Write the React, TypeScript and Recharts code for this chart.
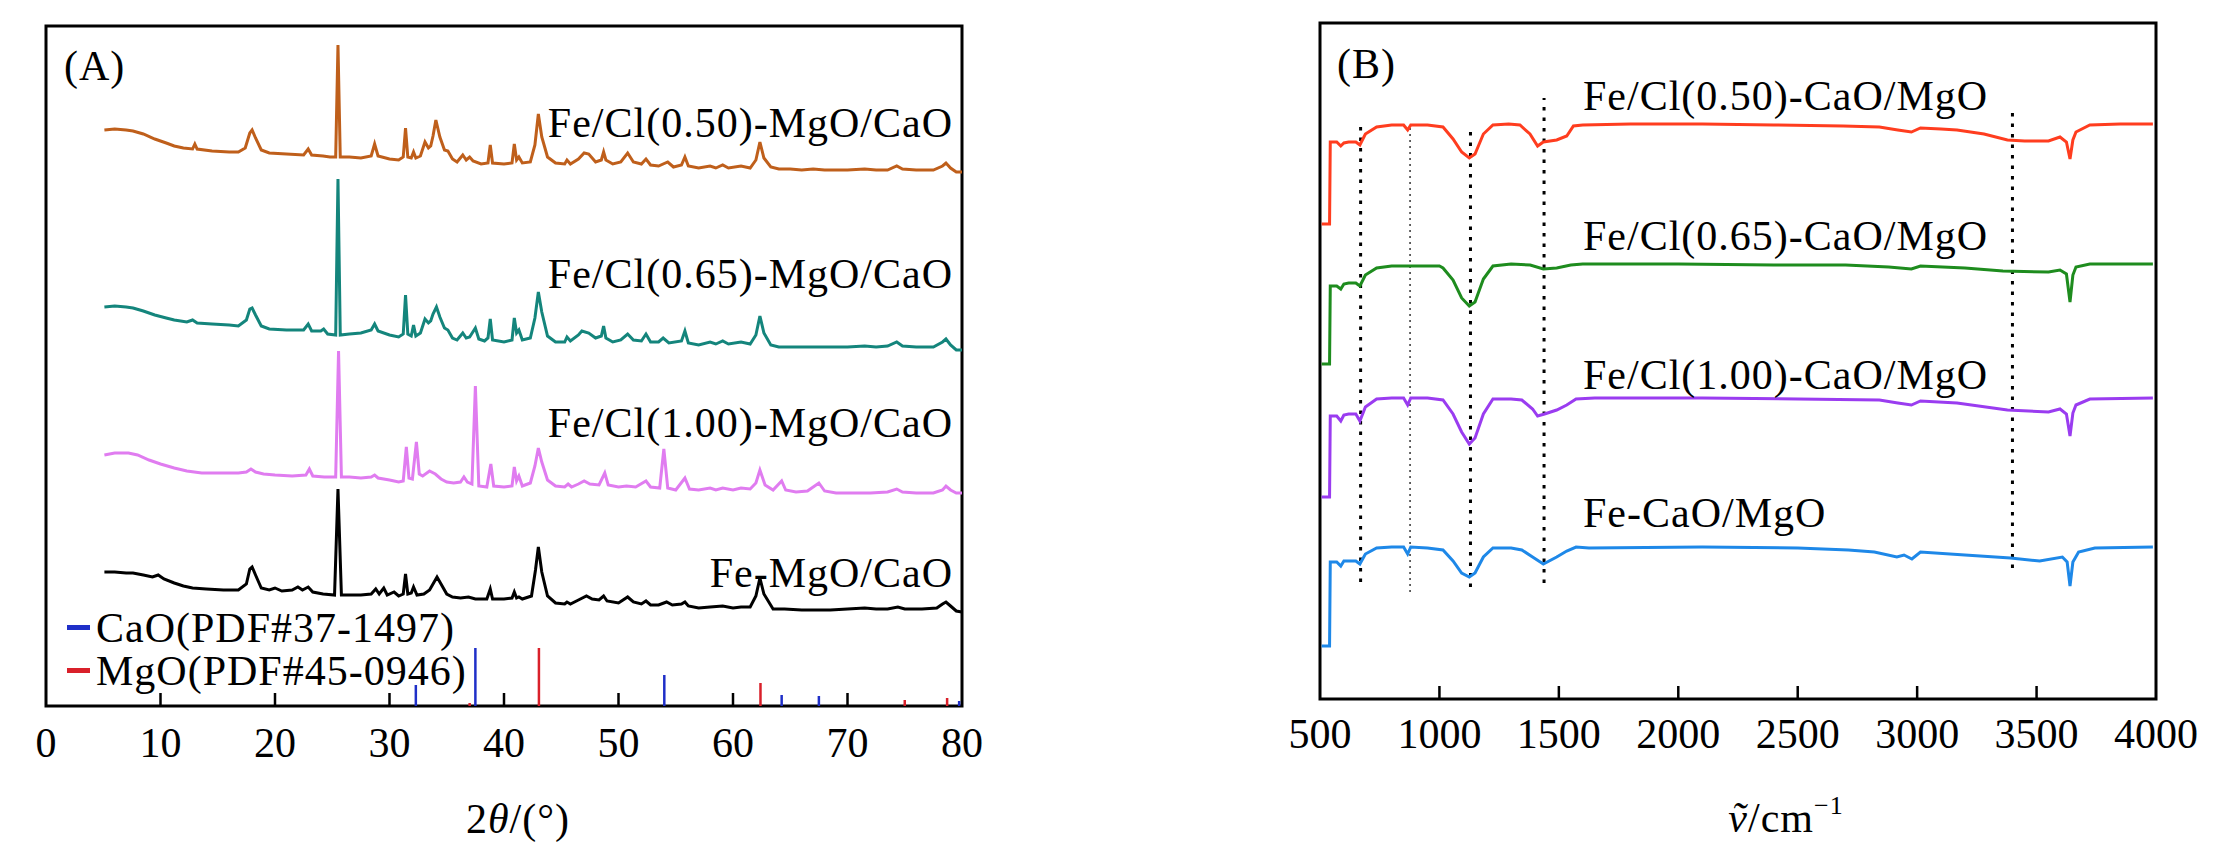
import { LineChart, Line, XAxis, YAxis, ReferenceLine, ReferenceArea } from 'recharts'

const SERIF = "'Liberation Serif', 'Times New Roman', serif"

// (A) XRD, 2θ in degrees vs intensity (a.u., patterns offset)
const XRD_TICKS = [0, 10, 20, 30, 40, 50, 60, 70, 80]

const XRD_050 = [
  [5.1, 576], [6.0, 577], [7.0, 576], [7.6, 575], [8.5, 572], [9.5, 567], [10.5, 563], [11.2, 560], [12.0, 558],
  [12.8, 557], [13.0, 562], [13.2, 557], [14.5, 555], [16.0, 554], [16.8, 554], [17.4, 558], [17.8, 573], [18.0, 576],
  [18.3, 568], [18.8, 556], [19.5, 553], [21.0, 552], [22.5, 551], [22.9, 557], [23.2, 551], [24.2, 550], [24.8, 549],
  [25.3, 549], [25.5, 661], [25.7, 549], [26.5, 549], [27.5, 548], [28.4, 550], [28.7, 562], [29.0, 550], [30.0, 547],
  [30.8, 546], [31.2, 549], [31.4, 578], [31.6, 549], [31.9, 548], [32.1, 554], [32.3, 548], [32.7, 550], [33.1, 564],
  [33.4, 558], [33.6, 560], [33.8, 570], [34.05, 586], [34.4, 569], [34.8, 556], [35.1, 555], [35.5, 547], [35.9, 544],
  [36.4, 551], [36.7, 546], [37.0, 549], [37.3, 545], [38.0, 542], [38.6, 543], [38.8, 561], [39.0, 543], [40.0, 542],
  [40.7, 543], [40.9, 562], [41.1, 546], [41.3, 549], [41.6, 543], [42.3, 544], [42.7, 561], [43.0, 592], [43.3, 569],
  [43.8, 549], [44.5, 543], [45.3, 542], [45.5, 546], [45.8, 542], [46.5, 547], [47.0, 553], [47.4, 552], [48.0, 544],
  [48.5, 546], [48.7, 554], [48.9, 546], [49.5, 542], [50.2, 544], [50.8, 553], [51.3, 544], [52.0, 542], [52.4, 547],
  [52.8, 541], [53.5, 540], [54.3, 544], [54.8, 539], [55.5, 541], [55.8, 549], [56.1, 540], [57.0, 538], [58.0, 540],
  [58.5, 538], [59.1, 541], [59.6, 538], [60.7, 540], [61.5, 538], [62.0, 546], [62.35, 564], [62.7, 548], [63.3, 539],
  [64.0, 537], [65.0, 537], [66.0, 536], [67.0, 537], [68.0, 536], [70.0, 536], [71.5, 537], [72.5, 536], [73.5, 536],
  [74.3, 540], [74.8, 537], [76.0, 536], [77.5, 536], [78.3, 540], [78.6, 543], [79.0, 538], [79.5, 534], [80.0, 534],
]

const XRD_065 = [
  [5.1, 399], [6.0, 400], [7.0, 399], [7.6, 398], [8.5, 395], [9.5, 391], [10.5, 388], [11.2, 386], [12.3, 384],
  [12.8, 386], [13.2, 383], [14.5, 382], [16.0, 381], [16.8, 380], [17.5, 386], [17.8, 397], [18.0, 398], [18.3, 391],
  [18.8, 380], [19.5, 377], [21.0, 376], [22.5, 376], [22.9, 382], [23.2, 375], [24.0, 375], [24.25, 377], [24.6, 372],
  [25.3, 371], [25.5, 527], [25.7, 371], [26.5, 372], [27.5, 373], [28.4, 376], [28.7, 382], [29.0, 375], [30.0, 371],
  [30.8, 369], [31.2, 372], [31.4, 411], [31.6, 372], [31.9, 370], [32.1, 381], [32.3, 370], [32.7, 373], [33.1, 387],
  [33.4, 383], [33.6, 385], [33.8, 392], [34.1, 399], [34.4, 389], [34.8, 378], [35.1, 376], [35.5, 368], [35.9, 366],
  [36.4, 373], [36.7, 368], [37.0, 369], [37.5, 378], [37.8, 367], [38.3, 365], [38.6, 368], [38.8, 387], [39.0, 366],
  [40.0, 364], [40.7, 366], [40.9, 388], [41.1, 373], [41.3, 376], [41.6, 366], [42.3, 368], [42.7, 388], [43.0, 414],
  [43.3, 394], [43.8, 370], [44.5, 364], [45.3, 364], [45.5, 369], [45.8, 365], [46.5, 371], [46.8, 375], [47.4, 373],
  [48.0, 368], [48.5, 370], [48.7, 380], [48.9, 368], [49.5, 364], [50.2, 366], [50.8, 372], [51.3, 366], [52.0, 365],
  [52.4, 372], [52.8, 364], [53.5, 364], [53.9, 368], [54.4, 363], [55.5, 365], [55.8, 375], [56.1, 363], [57.0, 361],
  [58.0, 364], [58.5, 362], [59.1, 365], [59.6, 362], [60.7, 364], [61.5, 362], [62.0, 371], [62.35, 390], [62.7, 373],
  [63.3, 361], [64.0, 359], [65.0, 359], [66.0, 359], [67.0, 359], [68.0, 359], [70.0, 359], [71.5, 360], [72.5, 359],
  [73.5, 360], [74.3, 364], [74.8, 360], [76.0, 359], [77.5, 359], [78.3, 364], [78.6, 367], [79.0, 361], [79.5, 356],
  [80.0, 356],
]

const XRD_100 = [
  [5.1, 251], [6.0, 253], [7.2, 253], [8.0, 251], [9.0, 246], [10.0, 242], [11.2, 238], [12.3, 235], [13.6, 233],
  [15.0, 233], [16.8, 233], [17.5, 234], [17.9, 237], [18.3, 234], [19.0, 232], [20.0, 231], [21.5, 230], [22.7, 231],
  [23.0, 237], [23.3, 230], [24.3, 229], [25.3, 229], [25.55, 355], [25.8, 229], [26.5, 229], [27.5, 228], [28.4, 229],
  [28.7, 231], [29.0, 228], [30.0, 226], [30.8, 224], [31.2, 225], [31.47, 259], [31.7, 228], [32.0, 227], [32.35, 264],
  [32.6, 232], [32.9, 230], [33.5, 235], [34.0, 232], [34.5, 227], [35.0, 224], [35.6, 223], [36.2, 224], [36.5, 229],
  [36.8, 224], [37.2, 222], [37.5, 320], [37.8, 220], [38.5, 219], [38.85, 242], [39.1, 220], [40.0, 219], [40.7, 220],
  [40.9, 239], [41.1, 225], [41.3, 230], [41.6, 220], [42.3, 223], [42.7, 240], [43.0, 258], [43.3, 244], [43.8, 226],
  [44.5, 220], [45.3, 219], [45.6, 222], [45.9, 219], [46.5, 222], [47.0, 225], [47.5, 222], [48.3, 221], [48.8, 233],
  [49.1, 221], [50.0, 219], [50.7, 220], [51.5, 219], [52.4, 225], [52.8, 219], [53.6, 218], [53.96, 257], [54.3, 218],
  [55.0, 216], [55.8, 228], [56.2, 217], [57.0, 216], [58.0, 218], [58.5, 216], [59.1, 218], [60.0, 216], [60.7, 218],
  [61.5, 217], [62.0, 223], [62.35, 236], [62.8, 221], [63.5, 216], [64.25, 225], [64.6, 216], [65.5, 214], [66.5, 215],
  [67.5, 223], [68.0, 215], [69.0, 213], [70.5, 213], [72.0, 213], [73.5, 214], [74.3, 217], [74.8, 214], [76.0, 213],
  [77.5, 213], [78.3, 216], [78.6, 220], [79.0, 216], [79.5, 213], [80.0, 213],
]

const XRD_FE = [
  [5.1, 134], [6.0, 134], [7.0, 133], [7.6, 133], [8.5, 131], [9.3, 129], [9.8, 131], [10.3, 127], [11.2, 123],
  [12.0, 120], [12.8, 118], [14.0, 117], [15.5, 116], [16.8, 116], [17.5, 122], [17.8, 137], [18.0, 139], [18.3, 131],
  [18.8, 118], [19.5, 116], [20.0, 118], [20.6, 115], [21.5, 116], [22.0, 119], [22.4, 116], [22.9, 119], [23.3, 114],
  [24.2, 112], [25.2, 111], [25.5, 217], [25.8, 111], [26.5, 111], [27.5, 111], [28.4, 112], [28.8, 117], [29.1, 112],
  [29.5, 118], [29.8, 111], [30.4, 114], [30.8, 110], [31.2, 112], [31.4, 132], [31.6, 112], [31.9, 113], [32.1, 119],
  [32.4, 111], [33.0, 112], [33.5, 116], [33.9, 124], [34.15, 129], [34.5, 122], [35.0, 112], [35.5, 109], [36.2, 108],
  [36.9, 109], [37.5, 107], [38.5, 107], [38.8, 117], [39.0, 107], [40.0, 107], [40.7, 108], [40.9, 114], [41.1, 108],
  [41.3, 109], [41.6, 107], [42.4, 110], [42.75, 136], [43.0, 159], [43.3, 134], [43.8, 110], [44.5, 103], [45.3, 102],
  [45.5, 104], [45.8, 102], [46.5, 106], [47.2, 110], [47.7, 107], [48.3, 106], [48.7, 110], [49.0, 105], [50.0, 103],
  [50.8, 109], [51.3, 104], [52.0, 102], [52.4, 105], [52.8, 101], [53.5, 101], [54.2, 104], [54.7, 101], [55.5, 102],
  [55.8, 104], [56.1, 100], [57.0, 98], [58.0, 99], [59.1, 100], [60.0, 98], [60.7, 99], [61.5, 99], [62.0, 110],
  [62.35, 128], [62.7, 112], [63.5, 97], [64.5, 97], [66.0, 96], [67.0, 96], [68.5, 96], [70.0, 97], [71.5, 98],
  [72.5, 97], [73.5, 97], [74.4, 99], [75.0, 97], [76.5, 97], [77.8, 98], [78.3, 102], [78.6, 104], [79.0, 100],
  [79.5, 95], [80.0, 94],
]

// reference patterns: [2θ, relative height]
const CAO_PDF = [[32.3, 21], [37.5, 58], [54.0, 31], [64.25, 11], [67.5, 10], [79.75, 5]]
const MGO_PDF = [[37.0, 3], [43.05, 58], [62.4, 23], [75.0, 6], [78.7, 8]]

// (B) FTIR, wavenumber vs transmittance (a.u., offset)
const FTIR_TICKS = [500, 1000, 1500, 2000, 2500, 3000, 3500, 4000]

const FTIR_050 = [
  [507, 475], [540, 475], [543, 557], [570, 557], [587, 553], [600, 556], [620, 557], [650, 557], [667, 554], [690, 565],
  [737, 572], [800, 574], [850, 574], [867, 569], [880, 574], [950, 574], [1015, 572], [1057, 560], [1093, 547],
  [1125, 541], [1149, 545], [1184, 565], [1224, 574], [1290, 575], [1337, 574], [1379, 565], [1411, 553], [1435, 557],
  [1491, 559], [1533, 563], [1561, 573], [1600, 574], [1800, 575], [2100, 575], [2400, 574], [2690, 573], [2842, 572],
  [2919, 569], [2976, 567], [3014, 571], [3100, 570], [3167, 569], [3280, 565], [3378, 559], [3450, 558], [3550, 558],
  [3598, 562], [3625, 557], [3640, 540], [3652, 559], [3665, 567], [3723, 574], [3850, 575], [3987, 575],
]

const FTIR_065 = [
  [507, 335], [540, 335], [543, 413], [570, 413], [587, 410], [600, 415], [620, 416], [650, 416], [667, 413], [690, 424],
  [737, 431], [800, 433], [900, 433], [1000, 433], [1015, 431], [1057, 419], [1093, 401], [1125, 393], [1149, 397],
  [1184, 420], [1224, 433], [1300, 435], [1380, 434], [1435, 430], [1491, 431], [1550, 434], [1600, 435], [2000, 435],
  [2400, 434], [2700, 434], [2881, 432], [2976, 430], [3014, 433], [3200, 431], [3359, 428], [3550, 427], [3598, 429],
  [3625, 425], [3640, 397], [3652, 424], [3665, 432], [3723, 435], [3987, 435],
]

const FTIR_100 = [
  [507, 202], [540, 202], [543, 283], [570, 283], [587, 278], [600, 284], [620, 285], [650, 285], [667, 278], [690, 292],
  [737, 300], [800, 301], [850, 301], [867, 294], [880, 301], [950, 301], [1015, 299], [1057, 285], [1093, 267],
  [1125, 255], [1149, 261], [1184, 285], [1224, 300], [1300, 300], [1345, 299], [1390, 290], [1411, 283], [1440, 285],
  [1491, 289], [1533, 294], [1572, 300], [1650, 301], [2100, 301], [2500, 300], [2842, 299], [2919, 296], [2976, 294],
  [3014, 298], [3167, 296], [3378, 289], [3550, 287], [3598, 290], [3625, 285], [3640, 263], [3652, 286], [3665, 294],
  [3723, 300], [3987, 301],
]

const FTIR_FE = [
  [507, 53], [540, 53], [543, 137], [570, 137], [587, 133], [600, 138], [620, 138], [650, 138], [667, 135], [690, 145],
  [737, 151], [800, 152], [850, 152], [867, 145], [880, 152], [950, 151], [1015, 149], [1057, 138], [1093, 126],
  [1125, 122], [1149, 126], [1184, 142], [1224, 151], [1300, 151], [1345, 149], [1390, 142], [1435, 135], [1491, 142],
  [1533, 148], [1572, 152], [1626, 151], [2100, 152], [2500, 151], [2712, 149], [2821, 147], [2915, 142], [2945, 144],
  [2978, 140], [3014, 147], [3200, 144], [3391, 141], [3513, 138], [3608, 142], [3628, 137], [3640, 113], [3652, 137],
  [3676, 147], [3744, 151], [3987, 152],
]

// dotted guide lines: [wavenumber, from, to, thin?]
const FTIR_GUIDES = [[670, 117, 572, 0], [877, 107, 571, 1], [1130, 112, 567, 0], [1438, 116, 601, 0], [3399, 131, 586, 0]]

const pts = (arr: number[][]) => arr.map(([x, y]) => ({ x, y }))

function makeTick(min: number, max: number, labelDy: number) {
  return (props: any) => {
    const { x, y, payload } = props
    const v = payload.value
    const edge = v === min || v === max
    return (
      <g>
        {!edge && <line x1={x} x2={x} y1={y} y2={y - 13} stroke="#000" strokeWidth={2.5} />}
        <text x={x} y={y + labelDy} textAnchor="middle" fontSize={42} fontFamily={SERIF} fill="#000">
          {v}
        </text>
      </g>
    )
  }
}

const labelStyle = { fontSize: 42, fontFamily: SERIF, fill: '#000', letterSpacing: 1 }

export default function App() {
  return (
    <div style={{ position: 'absolute', left: 0, top: 0, width: 2217, height: 850, background: '#fff' }}>
      <div style={{ position: 'absolute', left: 0, top: 0 }}>
        <LineChart width={1000} height={850} margin={{ top: 26, left: 46, right: 38, bottom: 0 }}>
          <XAxis type="number" dataKey="x" domain={[0, 80]} ticks={XRD_TICKS} interval={0} allowDataOverflow
            height={144} axisLine={false} tickLine={false} tickSize={0} tickMargin={0} tick={makeTick(0, 80, 51)} />
          <YAxis type="number" domain={[0, 680]} hide allowDataOverflow />
          {CAO_PDF.map(([p, h]) => (
            <ReferenceLine key={'c' + p} segment={[{ x: p, y: 0 }, { x: p, y: h }]} stroke="#1f2fc8" strokeWidth={2.5} />
          ))}
          {MGO_PDF.map(([p, h]) => (
            <ReferenceLine key={'m' + p} segment={[{ x: p, y: 0 }, { x: p, y: h }]} stroke="#d9202a" strokeWidth={2.5} />
          ))}
          <Line data={pts(XRD_FE)} dataKey="y" stroke="#000000" strokeWidth={3} dot={false} isAnimationActive={false} />
          <Line data={pts(XRD_100)} dataKey="y" stroke="#e07cf0" strokeWidth={3} dot={false} isAnimationActive={false} />
          <Line data={pts(XRD_065)} dataKey="y" stroke="#14857c" strokeWidth={3} dot={false} isAnimationActive={false} />
          <Line data={pts(XRD_050)} dataKey="y" stroke="#bf5f1b" strokeWidth={3} dot={false} isAnimationActive={false} />
          <ReferenceArea x1={0} x2={80} y1={0} y2={680} fill="none" stroke="#000" strokeWidth={3} />
        </LineChart>
      </div>

      <div style={{ position: 'absolute', left: 1200, top: 0 }}>
        <LineChart width={1017} height={850} margin={{ top: 23, left: 120, right: 61, bottom: 0 }}>
          <XAxis type="number" dataKey="x" domain={[500, 4000]} ticks={FTIR_TICKS} interval={0} allowDataOverflow
            height={151} axisLine={false} tickLine={false} tickSize={0} tickMargin={0} tick={makeTick(500, 4000, 49)} />
          <YAxis type="number" domain={[0, 676]} hide allowDataOverflow />
          {FTIR_GUIDES.map(([v, a, b, thin]) => (
            <ReferenceLine key={'g' + v} segment={[{ x: v, y: a }, { x: v, y: b }]} stroke="#000"
              strokeWidth={thin ? 1.2 : 3} strokeDasharray={thin ? '2 4' : '3.5 7'} />
          ))}
          <Line data={pts(FTIR_FE)} dataKey="y" stroke="#1e88e8" strokeWidth={3} dot={false} isAnimationActive={false} />
          <Line data={pts(FTIR_100)} dataKey="y" stroke="#9a3cf0" strokeWidth={3} dot={false} isAnimationActive={false} />
          <Line data={pts(FTIR_065)} dataKey="y" stroke="#1e8c1e" strokeWidth={3} dot={false} isAnimationActive={false} />
          <Line data={pts(FTIR_050)} dataKey="y" stroke="#ff3d1f" strokeWidth={3} dot={false} isAnimationActive={false} />
          <ReferenceArea x1={500} x2={4000} y1={0} y2={676} fill="none" stroke="#000" strokeWidth={3} />
        </LineChart>
      </div>

      <svg width={2217} height={850} style={{ position: 'absolute', left: 0, top: 0, pointerEvents: 'none' }}>
        <text x={64} y={80} {...labelStyle}>(A)</text>
        <text x={1337} y={78} {...labelStyle}>(B)</text>

        <text x={953} y={137} textAnchor="end" {...labelStyle}>Fe/Cl(0.50)-MgO/CaO</text>
        <text x={953} y={288} textAnchor="end" {...labelStyle}>Fe/Cl(0.65)-MgO/CaO</text>
        <text x={953} y={437} textAnchor="end" {...labelStyle}>Fe/Cl(1.00)-MgO/CaO</text>
        <text x={953} y={587} textAnchor="end" {...labelStyle}>Fe-MgO/CaO</text>

        <rect x={67} y={625} width={23} height={5} fill="#1f2fc8" />
        <text x={96} y={642} {...labelStyle}>CaO(PDF#37-1497)</text>
        <rect x={67} y={668} width={23} height={5} fill="#d9202a" />
        <text x={96} y={685} {...labelStyle}>MgO(PDF#45-0946)</text>

        <text x={1583} y={110} {...labelStyle}>Fe/Cl(0.50)-CaO/MgO</text>
        <text x={1583} y={250} {...labelStyle}>Fe/Cl(0.65)-CaO/MgO</text>
        <text x={1583} y={389} {...labelStyle}>Fe/Cl(1.00)-CaO/MgO</text>
        <text x={1583} y={527} {...labelStyle}>Fe-CaO/MgO</text>

        <text x={518} y={833} textAnchor="middle" {...labelStyle}>
          2<tspan fontStyle="italic">θ</tspan>/(°)
        </text>
        <text x={1786} y={832} textAnchor="middle" {...labelStyle}>
          <tspan fontStyle="italic">ṽ</tspan>/cm
          <tspan fontSize={26} dy={-18}>−1</tspan>
        </text>
      </svg>
    </div>
  )
}
